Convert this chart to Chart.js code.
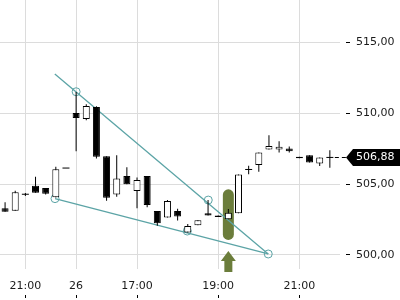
<!DOCTYPE html>
<html><head><meta charset="utf-8">
<script src="https://cdn.jsdelivr.net/npm/chart.js@4.4.1/dist/chart.umd.min.js"></script>
<style>html,body{margin:0;padding:0;background:#fff;}canvas{display:block;}</style>
</head><body>
<canvas id="c" width="400" height="300"></canvas>
<script>
// ---- data ----
const opens  = [503.29,503.12,504.28,504.88,504.72,504.06,506.13,510.02,509.60,510.44,506.97,504.27,505.56,504.51,505.56,503.10,502.63,503.10,501.57,502.09,502.94,502.78,502.51,502.94,506.03,506.34,507.44,507.44,507.51,506.93,507.04,506.46,506.88];
const highs  = [503.71,504.53,504.37,505.51,504.72,506.22,506.13,511.50,510.63,510.50,506.97,507.04,506.18,505.47,505.56,503.10,503.87,503.26,502.18,502.44,503.87,502.78,503.24,505.68,506.29,507.23,508.45,508.03,507.65,506.93,507.04,506.88,507.39];
const lows   = [503.05,503.12,504.16,504.39,504.27,504.05,506.13,507.32,509.51,506.81,503.82,504.11,504.98,503.29,503.36,502.06,502.63,502.42,501.57,502.09,502.77,502.68,502.51,502.94,505.70,505.87,507.44,507.23,507.23,506.83,506.53,506.27,506.15];
const closes = [503.05,504.42,504.28,504.39,504.32,506.04,506.13,509.67,510.51,506.92,504.04,505.40,504.98,505.28,503.52,502.23,503.80,502.70,502.04,502.44,502.77,502.68,502.98,505.68,506.03,507.23,507.68,507.63,507.32,506.83,506.53,506.88,506.88];

const xTickIndex  = [2, 7, 13, 21, 29];
const xTickLabels = ['21:00', '26', '17:00', '19:00', '21:00'];
const yTickValues = [500, 505, 510, 515];
const yTickLabels = ['500,00', '505,00', '510,00', '515,00'];

const lastPrice = 506.88;
const lastPriceLabel = '506,88';

const upperTrend = [[4.9, 512.77], [25.93, 500.06]];
const lowerTrend = [[4.92, 503.97], [25.93, 500.06]];
const pivots = [[7, 511.52], [20.02, 503.87], [4.92, 503.97], [17.95, 501.68], [25.93, 500.06]];

const signalIndex = 22;
const signalRange = [501.05, 504.63];

// ---- styles ----
const teal = '#5ca4a6';
const olive = '#6b7d3b';
const gridColor = '#dcdcdc';
const textColor = '#1a1a1a';
const fontFamily = 'DejaVu Sans';

const idx = opens.map((_, i) => i);
const bodyData = idx.filter(i => opens[i] !== closes[i]).map(i => ({x: i, y: [opens[i], closes[i]]}));
const wickData = idx.filter(i => highs[i] > lows[i]).map(i => ({x: i, y: [lows[i], highs[i]]}));
const dojiData = idx.filter(i => opens[i] === closes[i]).map(i => ({x: i, y: closes[i]}));

const overlay = {
  id: 'overlay',
  afterDraw(chart) {
    const {ctx, chartArea, scales} = chart;
    const xs = scales.x, ys = scales.y;
    ctx.save();
    // signal arrow
    const ax = xs.getPixelForValue(signalIndex);
    const b = chartArea.bottom;
    ctx.fillStyle = olive;
    ctx.beginPath();
    ctx.moveTo(ax, b - 18);
    ctx.lineTo(ax + 7.5, b - 8);
    ctx.lineTo(ax + 4, b - 8);
    ctx.lineTo(ax + 4, b + 3);
    ctx.lineTo(ax - 4, b + 3);
    ctx.lineTo(ax - 4, b - 8);
    ctx.lineTo(ax - 7.5, b - 8);
    ctx.closePath();
    ctx.fill();
    // last price line + label
    const py = Math.round(ys.getPixelForValue(lastPrice)) + 0.5;
    const lx = xs.getPixelForValue(idx.length - 1) + 5;
    const tip = chartArea.right + 6;
    ctx.strokeStyle = '#000';
    ctx.lineWidth = 1;
    ctx.setLineDash([4, 3]);
    ctx.beginPath();
    ctx.moveTo(lx, py);
    ctx.lineTo(tip, py);
    ctx.stroke();
    ctx.setLineDash([]);
    ctx.fillStyle = '#000';
    ctx.beginPath();
    ctx.moveTo(tip, py);
    ctx.lineTo(tip + 7, py - 8.5);
    ctx.lineTo(chart.width, py - 8.5);
    ctx.lineTo(chart.width, py + 8.5);
    ctx.lineTo(tip + 7, py + 8.5);
    ctx.closePath();
    ctx.fill();
    ctx.fillStyle = '#fff';
    ctx.font = '11px "' + fontFamily + '"';
    ctx.textBaseline = 'middle';
    ctx.textAlign = 'left';
    ctx.fillText(lastPriceLabel, chartArea.right + 16, py);
    ctx.restore();
  }
};

new Chart(document.getElementById('c'), {
  type: 'bar',
  data: {
    datasets: [
      { // candle bodies (top)
        type: 'bar', data: bodyData, grouped: false, barThickness: 7,
        backgroundColor: ctx => (ctx.raw && ctx.raw.y[1] > ctx.raw.y[0]) ? '#ffffff' : '#000000',
        borderColor: '#000', borderWidth: 1, borderSkipped: false, inflateAmount: 0
      },
      { // doji marks
        type: 'line', data: dojiData, showLine: false,
        pointStyle: 'line', pointRadius: 3.5, pointHoverRadius: 3.5,
        pointBorderColor: '#000', pointBorderWidth: 1, borderColor: '#000'
      },
      { // wicks
        type: 'bar', data: wickData, grouped: false, barThickness: 1,
        backgroundColor: '#000', borderWidth: 0, inflateAmount: 0
      },
      { // pivot circles
        type: 'line', data: pivots.map(p => ({x: p[0], y: p[1]})), showLine: false,
        pointRadius: 4, pointHoverRadius: 4, pointBorderWidth: 1,
        pointBorderColor: teal, pointBackgroundColor: 'rgba(0,0,0,0)'
      },
      { // upper trend line
        type: 'line', data: upperTrend.map(p => ({x: p[0], y: p[1]})),
        borderColor: teal, borderWidth: 1.3, pointRadius: 0, fill: false
      },
      { // lower trend line
        type: 'line', data: lowerTrend.map(p => ({x: p[0], y: p[1]})),
        borderColor: teal, borderWidth: 1.3, pointRadius: 0, fill: false
      },
      { // signal pill
        type: 'bar', data: [{x: signalIndex, y: signalRange}], grouped: false, barThickness: 11,
        backgroundColor: olive, borderWidth: 0, borderRadius: 6, borderSkipped: false, inflateAmount: 0
      }
    ]
  },
  options: {
    responsive: false,
    animation: false,
    devicePixelRatio: 1,
    layout: { padding: 0, autoPadding: false },
    plugins: { legend: { display: false }, tooltip: { enabled: false } },
    scales: {
      x: {
        type: 'linear', min: -0.5, max: 33, offset: false,
        afterBuildTicks: s => { s.ticks = xTickIndex.map(v => ({value: v})); },
        afterFit: s => { s.height = 31; s.paddingLeft = 0; s.paddingRight = 0; },
        ticks: {
          autoSkip: false, maxRotation: 0, padding: -18, color: textColor,
          font: { family: fontFamily, size: 11 },
          callback: v => xTickLabels[xTickIndex.indexOf(v)]
        },
        grid: {
          offset: false,
          color: gridColor, lineWidth: 1, drawTicks: true, tickLength: 29,
          tickColor: '#000', tickBorderDash: [0, 26, 3, 20]
        },
        border: { display: false }
      },
      y: {
        type: 'linear', position: 'right', min: 499, max: 518, beginAtZero: false,
        afterBuildTicks: s => { s.ticks = yTickValues.map(v => ({value: v})); },
        afterFit: s => { s.width = 60; s.paddingTop = 0; s.paddingBottom = 0; },
        ticks: {
          padding: 6, color: textColor,
          font: { family: fontFamily, size: 11 },
          callback: v => yTickLabels[yTickValues.indexOf(v)]
        },
        grid: {
          offset: false,
          color: gridColor, lineWidth: 1, drawTicks: true, tickLength: 10,
          tickColor: '#000', tickBorderDash: [0, 6, 4, 20]
        },
        border: { display: false }
      }
    }
  },
  plugins: [overlay]
});
</script>
</body></html>
